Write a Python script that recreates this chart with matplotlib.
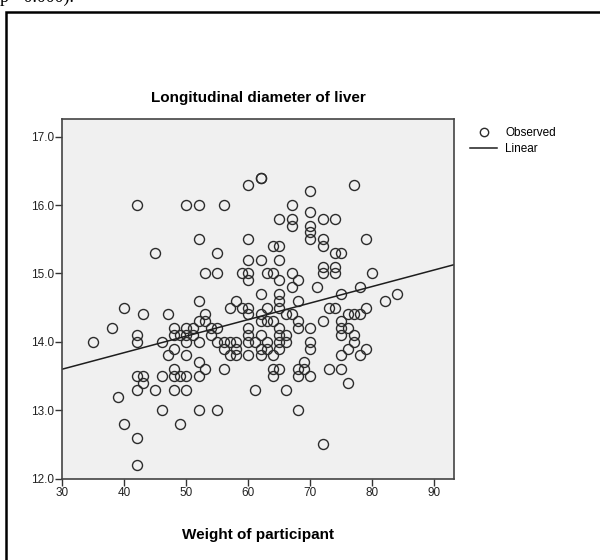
import matplotlib
matplotlib.use("Agg")
import matplotlib.pyplot as plt
from matplotlib.patches import Rectangle
from matplotlib.lines import Line2D

# Weight of participant (kg) and longitudinal liver diameter (cm)
weight = [
    42, 50, 52, 56, 52, 45, 55, 53, 55, 52,
    60, 62, 62, 70, 77, 67, 65, 67, 67, 70, 70, 70, 70, 72, 74, 60, 64, 65, 72, 72,
    79, 74, 75, 60, 62, 65, 59, 60, 60, 63, 64, 65, 67, 68, 67, 71, 72, 72, 74, 74,
    80, 62, 65, 78, 75, 84, 58, 82,
    40, 43, 47, 38, 35, 42, 42, 46, 48, 48, 49, 50, 50, 50, 51, 52, 53, 53, 52, 54,
    54, 55, 55, 56, 56, 48, 47, 50, 52, 53, 48, 42, 43, 43, 46, 48, 49, 50, 52, 42,
    45, 48, 50, 39, 46, 52, 55, 40, 49, 42, 42,
    57, 59, 60, 60, 63, 65, 65, 68, 66, 67, 62, 62, 63, 64, 60, 60, 65, 65, 65, 66,
    66, 68, 68, 70, 72, 73, 74, 75, 75, 75, 76, 77, 78, 79, 62, 61, 56, 58, 58, 58,
    57, 60, 62, 62, 63, 63, 64, 65, 70, 70, 77, 77, 76, 75, 79, 78, 64, 64, 65, 68,
    68, 69, 69, 70, 73, 75, 76, 61, 66, 68, 72, 76, 57, 60, 51,
]
diameter = [
    16.0, 16.0, 16.0, 16.0, 15.5, 15.3, 15.3, 15.0, 15.0, 14.6,
    16.3, 16.4, 16.4, 16.2, 16.3, 16.0, 15.8, 15.8, 15.7, 15.9, 15.7, 15.6, 15.5, 15.8, 15.8, 15.5, 15.4, 15.4, 15.5, 15.4,
    15.5, 15.3, 15.3, 15.2, 15.2, 15.2, 15.0, 15.0, 14.9, 15.0, 15.0, 14.9, 15.0, 14.9, 14.8, 14.8, 15.1, 15.0, 15.1, 15.0,
    15.0, 14.7, 14.7, 14.8, 14.7, 14.7, 14.6, 14.6,
    14.5, 14.4, 14.4, 14.2, 14.0, 14.1, 14.0, 14.0, 14.2, 14.1, 14.1, 14.2, 14.1, 14.0, 14.2, 14.3, 14.4, 14.3, 14.0, 14.2,
    14.1, 14.2, 14.0, 13.9, 13.6, 13.9, 13.8, 13.8, 13.7, 13.6, 13.6, 13.5, 13.5, 13.4, 13.5, 13.5, 13.5, 13.5, 13.5, 13.3,
    13.3, 13.3, 13.3, 13.2, 13.0, 13.0, 13.0, 12.8, 12.8, 12.6, 12.2,
    14.5, 14.5, 14.5, 14.4, 14.5, 14.6, 14.5, 14.6, 14.4, 14.4, 14.4, 14.3, 14.3, 14.3, 14.2, 14.1, 14.2, 14.1, 14.0, 14.1,
    14.0, 14.3, 14.2, 14.2, 14.3, 14.5, 14.5, 14.3, 14.2, 14.1, 14.4, 14.4, 14.4, 14.5, 14.1, 14.0, 14.0, 14.0, 13.9, 13.8,
    13.8, 13.8, 13.9, 13.8, 14.0, 13.9, 13.8, 13.9, 14.0, 13.9, 14.1, 14.0, 13.9, 13.8, 13.9, 13.8, 13.6, 13.5, 13.6, 13.6,
    13.5, 13.7, 13.6, 13.5, 13.6, 13.6, 13.4, 13.3, 13.3, 13.0, 12.5, 14.2, 14.0, 14.0, 14.1,
]

# fitted linear line, intercept / slope
fit_intercept = 12.874
fit_slope = 0.0242

x_range = [30, 93.2]
y_range = [12.0, 17.26]
x_ticks = [30, 40, 50, 60, 70, 80, 90]
y_ticks = [12.0, 13.0, 14.0, 15.0, 16.0, 17.0]

plt.rcParams['font.family'] = ['Liberation Sans', 'DejaVu Sans']

fig = plt.figure(figsize=(6, 5.6), dpi=100)
ax = fig.add_axes([0.1038, 0.1455, 0.6533, 0.642])
ax.set_facecolor('#F0F0F0')

ax.plot(weight, diameter, linestyle='none', marker='o', markersize=7.2,
        markerfacecolor='none', markeredgecolor='#2b2b2b', markeredgewidth=1.0)

line_y = [fit_intercept + fit_slope * v for v in x_range]
ax.plot(x_range, line_y, color='#1e1e1e', linewidth=1.1)

ax.set_xlim(x_range)
ax.set_ylim(y_range)
ax.set_xticks(x_ticks)
ax.set_yticks(y_ticks)
ax.set_xticklabels([str(t) for t in x_ticks])
ax.set_yticklabels([f"{t:.1f}" for t in y_ticks])
ax.tick_params(direction='out', length=5, width=1, color='#333333',
               labelsize=8.5, labelcolor='#222222', pad=1)
for s in ax.spines.values():
    s.set_color('#444444')
    s.set_linewidth(1.2)

ax.set_title("Longitudinal diameter of liver", fontsize=11, fontweight='bold', pad=12)
ax.set_xlabel("Weight of participant", fontsize=11, fontweight='bold', labelpad=21)

handles = [
    Line2D([], [], linestyle='none', marker='o', markersize=6,
           markerfacecolor='none', markeredgecolor='#2b2b2b', markeredgewidth=1.0),
    Line2D([], [], color='#1e1e1e', linewidth=1.1),
]
fig.legend(handles, ["Observed", "Linear"], loc='upper left',
           bbox_to_anchor=(0.774, 0.783), frameon=False, fontsize=8.5,
           handlelength=2.3, handletextpad=0.65, labelspacing=0.3, borderpad=0)

# screenshot frame and the cut-off text line above it
fig.add_artist(Rectangle((0.0103, -0.05), 1.2, 1.029, transform=fig.transFigure,
                         fill=False, edgecolor='black', linewidth=1.8))
fig.text(0.0, 1.004, "p= 0.000).", fontsize=13, family='Liberation Serif',
         ha='left', va='center')

fig.savefig("out.png", dpi=100)
